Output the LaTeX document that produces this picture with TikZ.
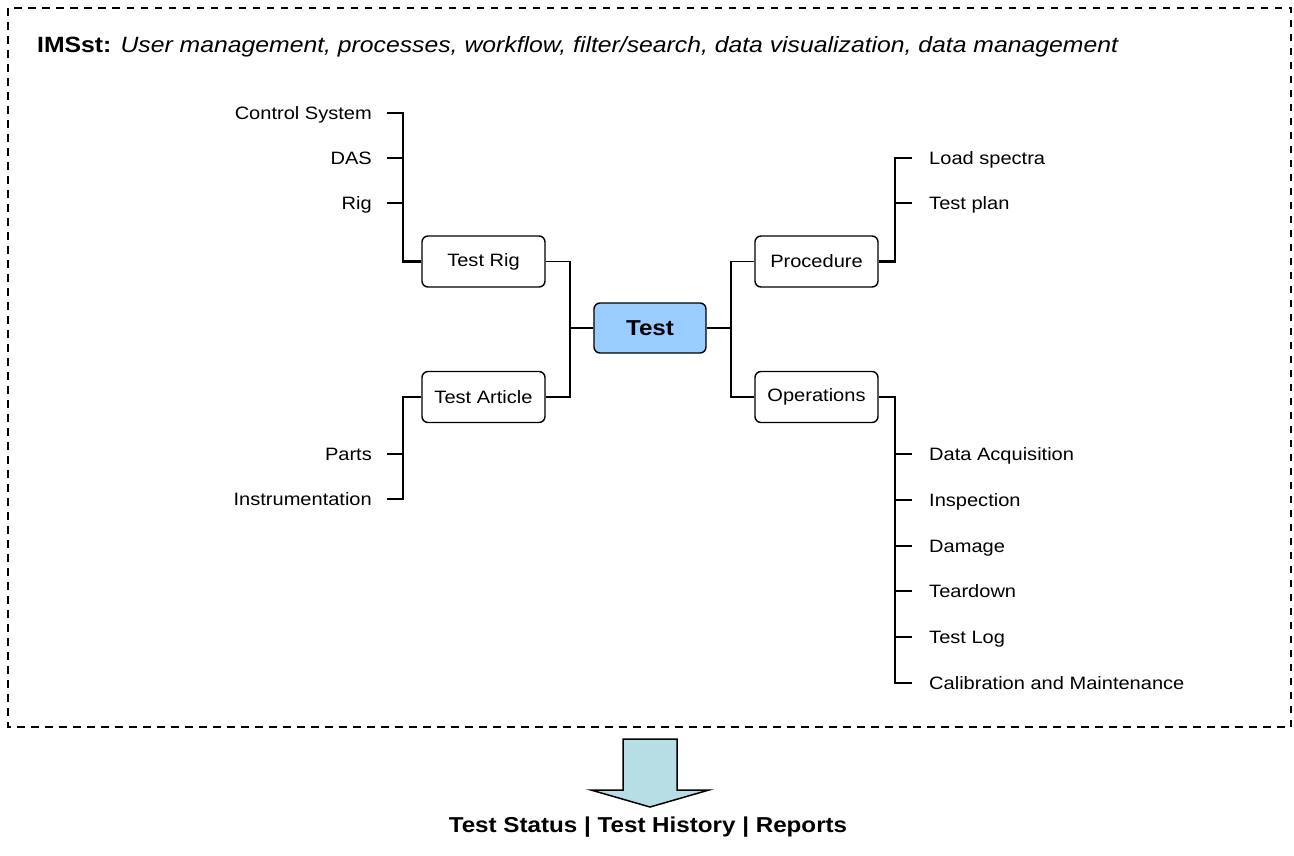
\documentclass[tikz,border=0pt]{standalone}
\usepackage{fontspec}
\setmainfont{Liberation Sans}[FakeStretch=1.12]
\definecolor{testblue}{RGB}{153,204,255}
\definecolor{arrowfill}{RGB}{183,222,228}
\newcommand{\lblfont}{\fontsize{17.9}{21}\selectfont}
\newcommand{\bigfont}{\fontsize{21.6}{26}\selectfont}
\newcommand{\titlefont}{\fontsize{22.1}{26}\selectfont}
\begin{document}
\begin{tikzpicture}[x=1pt,y=-1pt,
  box/.style={draw, line width=1.4pt, rounded corners=6pt, minimum width=123pt,
    minimum height=51pt, inner sep=0pt, font=\lblfont},
  central/.style={box, fill=testblue, minimum width=112pt, minimum height=50pt,
    font=\bigfont\bfseries},
  leaf/.style={inner sep=0pt, text height=14pt, text depth=2pt, font=\lblfont},
  link/.style={line width=1.5pt},
  branch/.style={line width=2.2pt},
  tick/.style={line width=1.5pt},
  frame/.style={line width=1.5pt, dash pattern=on 7.5pt off 6.5pt}
]
\useasboundingbox (0,0) rectangle (1294,855);

% dashed frame of the system
\draw[frame] (8,8) rectangle (1291,727);
\node[anchor=west, inner sep=0pt, font=\titlefont] (title) at (37,47)
  {\textbf{IMSst:} \textit{User management, processes, workflow, filter/search, data visualization, data management}};

% central node and its four groups
\node[central] (test) at (650,328) {Test};
\node[box] (tr) at (483.5,261.5) {Test Rig};
\node[box] (ta) at (483.5,397) {Test Article};
\node[box] (pr) at (816.5,261.5) {Procedure};
\node[box] (op) at (816.5,397) {Operations};

% bus positions
\coordinate (lhub) at (570,0);
\coordinate (rhub) at (731,0);
\coordinate (lbus) at (403,0);
\coordinate (rbus) at (895,0);

\draw[link] (test.west) -- (test.west -| lhub);
\draw[link] (tr.east) -| (ta.east -| lhub) -- (ta.east);
\draw[link] (test.east) -- (test.east -| rhub);
\draw[link] (pr.west) -| (op.west -| rhub) -- (op.west);

% leaves on the left
\node[leaf, anchor=east] (cs) at (372,113) {Control System};
\node[leaf, anchor=east] (das) at (372,158) {DAS};
\node[leaf, anchor=east] (rig) at (372,203) {Rig};
\node[leaf, anchor=east] (parts) at (372,454) {Parts};
\node[leaf, anchor=east] (instr) at (372,499) {Instrumentation};

% leaves on the right
\node[leaf, anchor=west] (ls) at (929,158) {Load spectra};
\node[leaf, anchor=west] (tp) at (929,203) {Test plan};
\node[leaf, anchor=west] (da) at (929,454) {Data Acquisition};
\node[leaf, anchor=west] (insp) at (929,500) {Inspection};
\node[leaf, anchor=west] (dmg) at (929,546) {Damage};
\node[leaf, anchor=west] (td) at (929,591) {Teardown};
\node[leaf, anchor=west] (tl) at (929,637) {Test Log};
\node[leaf, anchor=west] (cm) at (929,683) {Calibration and Maintenance};

% branch buses
\draw[branch] (tr.west) -- (tr.west -| lbus) -- (cs.east -| lbus) -- ([xshift=15pt]cs.east);
\draw[branch] (ta.west) -- (ta.west -| lbus) -- (instr.east -| lbus) -- ([xshift=15pt]instr.east);
\draw[branch] (pr.east) -- (pr.east -| rbus) -- (ls.west -| rbus) -- ([xshift=-17pt]ls.west);
\draw[branch] (op.east) -- (op.east -| rbus) -- (cm.west -| rbus) -- ([xshift=-17pt]cm.west);

% ticks
\foreach \n in {das,rig,parts}
  \draw[tick] ([xshift=15pt]\n.east) -- (\n.east -| lbus);
\foreach \n in {tp,da,insp,dmg,td,tl}
  \draw[tick] ([xshift=-17pt]\n.west) -- (\n.west -| rbus);

% output arrow and result line
\draw[line width=1.5pt, fill=arrowfill, line join=miter]
  (623,739) -- (677,739) -- (677,790) -- (709,790) -- (650,807)
  -- (591,790) -- (623,790) -- cycle;
\node[inner sep=0pt, font=\bigfont\bfseries] (out) at (648,827)
  {Test Status | Test History | Reports};
\end{tikzpicture}
\end{document}
